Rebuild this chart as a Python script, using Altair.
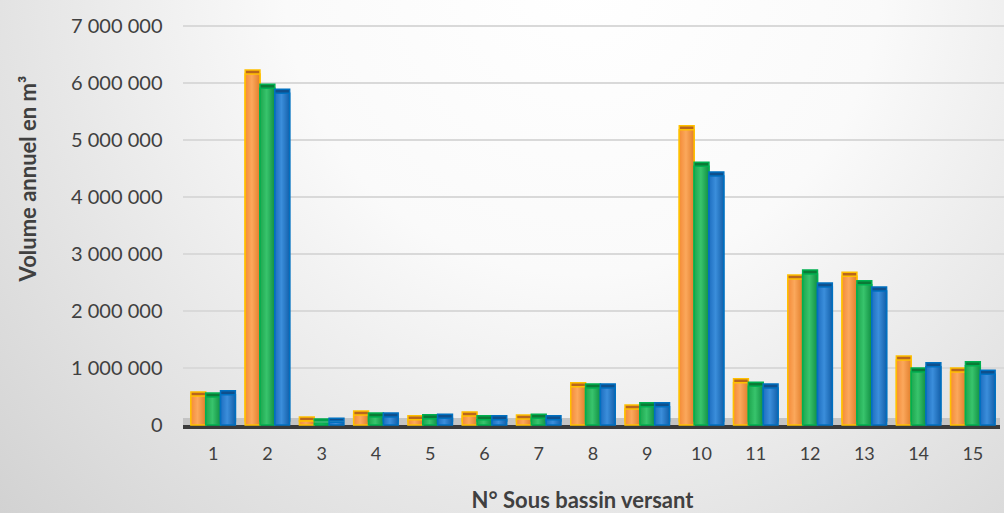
import altair as alt
import pandas as pd

# Annual volume per sub-watershed, three series
categories = [str(i) for i in range(1, 16)]
series_names = ["Série 1", "Série 2", "Série 3"]
serie_1 = [510000, 6160000, 70000, 175000, 90000, 160000, 105000, 670000, 280000,
           5180000, 740000, 2560000, 2610000, 1140000, 930000]
serie_2 = [490000, 5910000, 35000, 140000, 110000, 90000, 120000, 650000, 320000,
           4540000, 680000, 2650000, 2460000, 930000, 1040000]
serie_3 = [530000, 5820000, 50000, 140000, 120000, 90000, 90000, 650000, 320000,
           4370000, 650000, 2420000, 2350000, 1020000, 890000]
y_ticks = [0, 1000000, 2000000, 3000000, 4000000, 5000000, 6000000, 7000000]

rows = []
for name, values in zip(series_names, [serie_1, serie_2, serie_3]):
    for cat, v in zip(categories, values):
        rows.append({"cat": cat, "serie": name, "value": v})
df = pd.DataFrame(rows)
grid_df = pd.DataFrame({"value": y_ticks[1:]})

W, H = 814, 399
PAD = {"left": 186, "top": 26, "right": 4, "bottom": 88}
FONT = "Lato"
TXT = "#404040"

styles = {
    "Série 1": dict(stops=["#F48B38", "#FBA85C", "#E27E2B"], stroke="#FFC000",
                    depth="#B8661E"),
    "Série 2": dict(stops=["#1DA64E", "#38C46C", "#128F43"], stroke="#00B050",
                    depth="#0B7A36"),
    "Série 3": dict(stops=["#1E6EC0", "#3B8EDB", "#1460AA"], stroke="#0070C0",
                    depth="#0F4F8C"),
}

x_enc = alt.X(
    "cat:N", sort=categories,
    scale=alt.Scale(paddingInner=0.18, paddingOuter=0.09),
    axis=alt.Axis(
        domain=False, ticks=False, grid=False, labelAngle=0, labelPadding=20,
        labelFont=FONT, labelFontSize=18, labelColor=TXT, zindex=1,
        title="N° Sous bassin versant", titleFont=FONT, titleFontSize=22,
        titleFontWeight="bold", titleColor=TXT, titleX=396, titleY=75,
        titleAlign="center", titleBaseline="middle",
    ),
)
y_scale = alt.Scale(domain=[0, 7000000], nice=False, zero=True)
y_enc = alt.Y(
    "value:Q", scale=y_scale,
    axis=alt.Axis(
        values=y_ticks,
        labelExpr="replace(format(datum.value, ','), regexp(',', 'g'), ' ')",
        domain=False, ticks=False, grid=False, zindex=1,
        labelPadding=24, labelFont=FONT, labelFontSize=20, labelColor=TXT,
        title="Volume annuel en m³", titleFont=FONT, titleFontSize=22,
        titleFontWeight="bold", titleColor=TXT, titleAngle=-90,
        titleX=-158, titleY=152, titleAlign="center", titleBaseline="middle",
    ),
)
xoff_enc = alt.XOffset("serie:N", sort=series_names,
                       scale=alt.Scale(domain=series_names, paddingInner=0,
                                       paddingOuter=0))

# Soft radial background behind everything
background = alt.Chart(pd.DataFrame({"k": [0]})).mark_rect(
    color=alt.RadialGradient(
        gradient="radial", x1=0.58, y1=0.22, r1=0.0, x2=0.58, y2=0.22, r2=0.85,
        stops=[alt.GradientStop(offset=0, color="#ffffff"),
               alt.GradientStop(offset=0.35, color="#fafafa"),
               alt.GradientStop(offset=1, color="#cdcdcd")],
    ),
    clip=False,
).encode(
    x=alt.value(-PAD["left"]), x2=alt.value(W + PAD["right"]),
    y=alt.value(-PAD["top"]), y2=alt.value(H + PAD["bottom"]),
)

# Horizontal gridlines on the back wall
grid = alt.Chart(grid_df).mark_rule(color="#d9d9d9", strokeWidth=2).encode(
    x=alt.value(-3), x2=alt.value(W + PAD["right"]),
    y=alt.Y("value:Q", scale=y_scale),
)

axes_layer = alt.Chart(df).mark_bar(opacity=0).encode(x=x_enc, y=y_enc, xOffset=xoff_enc)

# Floor of the chart
floor = alt.Chart(pd.DataFrame({"k": [0]})).mark_rect(
    color="#c4c4c4", yOffset=-7
).encode(x=alt.value(-3), x2=alt.value(W), y=alt.datum(0), y2=alt.datum(0))
floor_line = alt.Chart(pd.DataFrame({"k": [0]})).mark_rule(
    color="#3a3a3a", strokeWidth=4, yOffset=2
).encode(x=alt.value(-3), x2=alt.value(W), y=alt.datum(0))

layers = [background, grid, axes_layer, floor, floor_line]
for name in series_names:
    st = styles[name]
    sub = alt.Chart(df).transform_filter(alt.datum.serie == name)
    depth = sub.mark_bar(
        color=st["depth"], stroke=st["stroke"], strokeWidth=1.5,
        xOffset=3, x2Offset=3, yOffset=-4, y2Offset=-4,
    ).encode(x=x_enc, y=y_enc, xOffset=xoff_enc)
    front = sub.mark_bar(
        color=alt.LinearGradient(
            gradient="linear", x1=0, y1=0, x2=1, y2=0,
            stops=[alt.GradientStop(offset=0, color=st["stops"][0]),
                   alt.GradientStop(offset=0.45, color=st["stops"][1]),
                   alt.GradientStop(offset=1, color=st["stops"][2])],
        ),
        stroke=st["stroke"], strokeWidth=1.5,
    ).encode(x=x_enc, y=y_enc, xOffset=xoff_enc)
    layers += [depth, front]

chart = alt.layer(*layers).properties(
    width=W, height=H, padding=PAD,
    autosize=alt.AutoSizeParams(type="none"),
    background="#ffffff",
).configure_view(stroke=None)

chart.save("out.html", embed_options={"renderer": "svg", "actions": False})
